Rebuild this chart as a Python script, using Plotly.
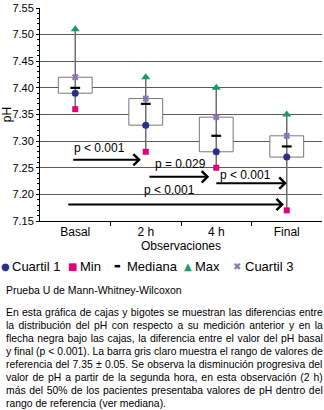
import plotly.graph_objects as go

# ---- data ----
categories = ["Basal", "2 h", "4 h", "Final"]
q1 = [7.39, 7.33, 7.28, 7.27]
minimum = [7.36, 7.28, 7.25, 7.17]
median = [7.40, 7.37, 7.31, 7.29]
maximum = [7.51, 7.42, 7.40, 7.35]
q3 = [7.42, 7.38, 7.345, 7.31]
y_ticks = [7.15, 7.20, 7.25, 7.30, 7.35, 7.40, 7.45, 7.50, 7.55]
p_labels = ["p < 0.001", "p = 0.029", "p < 0.001", "p < 0.001"]

legend_names = ["Cuartil 1", "Min", "Mediana", "Max", "Cuartil 3"]
note_title = "Prueba U de Mann-Whitney-Wilcoxon"
note_lines = [
    "En esta gráfica de cajas y bigotes se muestran las diferencias entre",
    "la distribución del pH con respecto a su medición anterior y en la",
    "flecha negra bajo las cajas, la diferencia entre el valor del pH basal",
    "y final (p < 0.001). La barra gris claro muestra el rango de valores de",
    "referencia del 7.35 ± 0.05. Se observa la disminución progresiva del",
    "valor de pH a partir de la segunda hora, en esta observación (2 h)",
    "más del 50% de los pacientes presentaba valores de pH dentro del",
    "rango de referencia (ver mediana).",
]

# ---- styles ----
C_Q1 = "#2b2f8a"
C_MIN = "#e2007a"
C_MED = "#000000"
C_MAX = "#179a6c"
C_Q3 = "#8a78b4"
FONT = "Liberation Sans, Arial, sans-serif"
NOTE_SIZE = 10.4

W, H = 324, 410
L, R, T, B = 40, 2, 8, 189
PW, PH = W - L - R, H - T - B


def px(xp):
    return (xp - L) / PW


def py(yp):
    return (H - B - yp) / PH


# Arial / Liberation Sans advance widths (1/1000 em) for justification
_AW = {" ": 278, "%": 889, "(": 333, ")": 333, ",": 278, "-": 333, ".": 278,
       "<": 584, "±": 584, "á": 556, "é": 556, "í": 278, "ó": 556, "ú": 556}
for ch in "0123456789":
    _AW[ch] = 556
for ch, w in zip("ABCDEFGHIJKLMNOPQRSTUVWXYZ",
                 [667, 667, 722, 722, 667, 611, 778, 722, 278, 500, 667, 556,
                  833, 722, 778, 667, 778, 722, 667, 611, 722, 667, 944, 667,
                  667, 611]):
    _AW[ch] = w
for ch, w in zip("abcdefghijklmnopqrstuvwxyz",
                 [556, 556, 500, 556, 556, 278, 556, 556, 222, 222, 500, 222,
                  833, 556, 556, 556, 556, 333, 500, 278, 556, 500, 722, 500,
                  500, 500]):
    _AW[ch] = w


def justified(line, width, size):
    nat = sum(_AW.get(c, 556) for c in line) * size / 1000.0
    n = line.count(" ")
    ws = (width - nat) / n if n else 0.0
    return f'<span style="word-spacing:{ws:.2f}px">{line}</span>'


xi = list(range(len(categories)))

fig = go.Figure()

# whiskers
wx, wy = [], []
for i in xi:
    wx += [i, i, None]
    wy += [minimum[i], maximum[i], None]
fig.add_trace(go.Scatter(x=wx, y=wy, mode="lines",
                         line=dict(color="#6e6e6e", width=1.5),
                         showlegend=False, hoverinfo="skip"))

# boxes
fig.add_trace(go.Bar(x=xi, y=[b - a for a, b in zip(q1, q3)], base=q1,
                     width=0.48, marker=dict(color="white",
                                             line=dict(color="#777777", width=1)),
                     showlegend=False, hoverinfo="skip"))

fig.add_trace(go.Scatter(x=xi, y=q1, mode="markers", name=legend_names[0],
                         marker=dict(symbol="circle", size=7, color=C_Q1)))
fig.add_trace(go.Scatter(x=xi, y=minimum, mode="markers", name=legend_names[1],
                         marker=dict(symbol="square", size=6, color=C_MIN)))
fig.add_trace(go.Scatter(x=xi, y=median, mode="markers", name=legend_names[2],
                         marker=dict(symbol="line-ew", size=7,
                                     line=dict(color=C_MED, width=2.2))))
fig.add_trace(go.Scatter(x=xi, y=maximum, mode="markers", name=legend_names[3],
                         marker=dict(symbol="triangle-up", size=8, color=C_MAX)))
fig.add_trace(go.Scatter(x=xi, y=q3, mode="markers", name=legend_names[4],
                         marker=dict(symbol="x", size=6, color=C_Q3)))

# comparison arrows (from x, to x, y) and label positions
arrows = [
    (-0.05, 0.93, 7.265, 0.35, 7.287),
    (1.03, 1.90, 7.233, 1.49, 7.257),
    (1.98, 3.00, 7.221, 2.41, 7.236),
    (-0.12, 2.96, 7.181, 1.33, 7.208),
]
ann = []
for (x0, x1, ya, lx, ly), lab in zip(arrows, p_labels):
    ann.append(dict(x=x1, y=ya, ax=x0, ay=ya, xref="x", yref="y",
                    axref="x", ayref="y", text="", showarrow=True,
                    arrowhead=4, arrowsize=1.1, arrowwidth=2,
                    arrowcolor="black"))
    ann.append(dict(x=lx, y=ly, xref="x", yref="y", text=lab,
                    showarrow=False, font=dict(size=12, color="black",
                                               family=FONT)))

# legend (manual row)
leg_syms = [
    ("●", C_Q1, 5), ("■", C_MIN, 72), ("▬", C_MED, 117),
    ("▲", C_MAX, 188), ("✖", C_Q3, 237),
]
leg_text_x = [10, 78, 125, 193, 243]
for (sym, col, sx), name, tx in zip(leg_syms, legend_names, leg_text_x):
    ann.append(dict(x=px(sx), y=py(266), xref="paper", yref="paper",
                    text=sym, showarrow=False, xanchor="center",
                    yanchor="middle",
                    font=dict(size=10 if sym != "▬" else 7, color=col,
                              family="DejaVu Sans")))
    ann.append(dict(x=px(tx), y=py(266), xref="paper", yref="paper",
                    text=name, showarrow=False, xanchor="left",
                    yanchor="middle",
                    font=dict(size=13, color="black", family=FONT)))

ann.append(dict(x=px(4), y=py(290), xref="paper", yref="paper",
                text=note_title, showarrow=False, xanchor="left",
                yanchor="middle", font=dict(size=10.5, color="black",
                                            family=FONT)))
for k, line in enumerate(note_lines):
    last = k == len(note_lines) - 1
    txt = line if last else justified(line, 317, NOTE_SIZE)
    ann.append(dict(x=px(4), y=py(312 + 13.1 * k), xref="paper",
                    yref="paper", text=txt, showarrow=False,
                    xanchor="left", yanchor="middle",
                    font=dict(size=NOTE_SIZE, color="black", family=FONT)))

fig.update_layout(
    width=W, height=H,
    margin=dict(l=L, r=R, t=T, b=B, autoexpand=False),
    paper_bgcolor="white", plot_bgcolor="white",
    showlegend=False, barmode="overlay",
    font=dict(family=FONT, color="black", size=12),
    annotations=ann,
)
fig.update_xaxes(
    type="linear", range=[-0.5, 3.5], tickvals=xi, ticktext=categories,
    showgrid=False, showline=True, linecolor="black", linewidth=1,
    ticks="", tickfont=dict(size=12), automargin=False,
    title=dict(text="Observaciones", font=dict(size=12), standoff=1),
    zeroline=False,
    minor=dict(tickvals=[0.5, 1.5, 2.5], ticks="outside", ticklen=4,
               tickcolor="black"),
)
fig.update_yaxes(
    range=[7.15, 7.55], tickvals=y_ticks, tickformat=".2f",
    showgrid=True, gridcolor="#5a5a5a", gridwidth=1,
    showline=True, linecolor="black", linewidth=1,
    ticks="outside", ticklen=3, tickcolor="black",
    tickfont=dict(size=11), automargin=False,
    title=dict(text="pH", font=dict(size=12), standoff=3),
    zeroline=False,
    minor=dict(dtick=0.01, ticks="outside", ticklen=2, tickcolor="black"),
)

# remove the browser's default 8px page margin so the figure sits at (0, 0)
fig.write_html("out.html",
               config={"displayModeBar": False},
               post_script="document.body.style.margin='0';")
